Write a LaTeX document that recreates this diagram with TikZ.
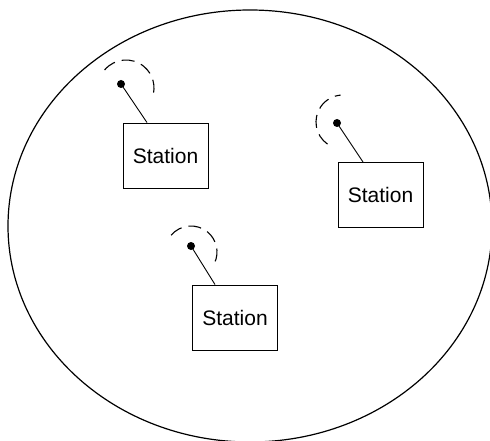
\documentclass[tikz,border=0pt]{standalone}
\usepackage{fontspec}
\setmainfont{Liberation Sans}
\usetikzlibrary{calc}
\begin{document}
\begin{tikzpicture}[x=1pt,y=1pt,
  stationbox/.style={draw, line width=0.9pt, minimum width=85pt, minimum height=65pt, inner sep=0pt, font=\fontsize{21}{25}\selectfont},
  antdot/.style={circle, fill, inner sep=0pt, minimum size=8pt},
  antline/.style={line width=0.9pt},
  wave/.style={dash pattern=on 13pt off 7pt, line width=1.1pt}]
\useasboundingbox (0,0) rectangle (490,440);
\begin{scope}
  \clip (0,0) rectangle (490,440);
  \draw[line width=1.2pt] (250,214) ellipse [x radius=242pt, y radius=216pt];
\end{scope}
\node[stationbox] (s1) at (165.5,284.5) {Station};
\node[stationbox] (s2) at (380.5,245) {Station};
\node[stationbox] (s3) at (235,122.5) {Station};
\node[antdot] (d1) at (121,356) {};
\node[antdot] (d2) at (337,317) {};
\node[antdot] (d3) at (191,194) {};
\coordinate (f1) at ($(s1.north)+(-18.5,0)$);
\coordinate (f2) at ($(s2.north)+(-17.5,0)$);
\coordinate (f3) at ($(s3.north)+(-20,0)$);
\draw[antline] (d1.center) -- (f1);
\draw[antline] (d2.center) -- (f2);
\draw[antline] (d3.center) -- (f3);
\coordinate (c1) at (126,352);
\coordinate (c2) at (343,318);
\coordinate (c3) at (191,188);
\draw[wave] ([shift={(140:28pt)}]c1) arc[start angle=140, end angle=-20, radius=28pt];
\draw[wave] ([shift={(235:27pt)}]c2) arc[start angle=235, end angle=95, radius=27pt];
\draw[wave] ([shift={(140:26pt)}]c3) arc[start angle=140, end angle=-25, radius=26pt];
\end{tikzpicture}
\end{document}
